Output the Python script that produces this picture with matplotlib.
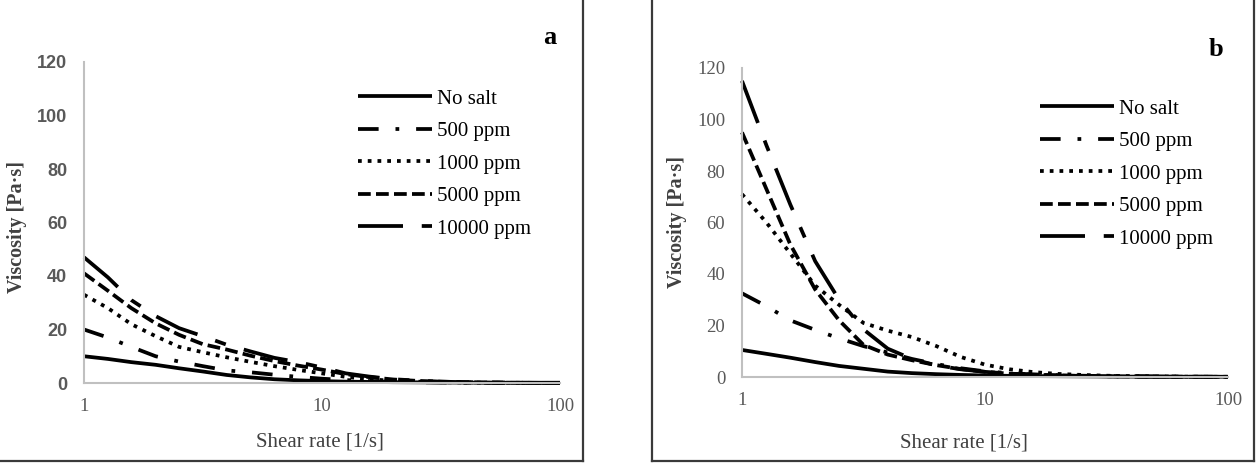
import matplotlib.pyplot as plt
from matplotlib.lines import Line2D
from matplotlib.font_manager import FontProperties

# shear rate grid [1/s]
shear = [1, 1.26, 1.58, 2, 2.51, 3.16, 3.98, 5.01, 6.31, 7.94, 10,
         12.6, 15.8, 20, 25.1, 31.6, 39.8, 50.1, 63.1, 79.4, 100]

labels = ["No salt", "500 ppm", "1000 ppm", "5000 ppm", "10000 ppm"]

# panel a
a_nosalt = [10, 9, 7.8, 6.8, 5.5, 4.3, 3.0, 2.1, 1.4, 1.0, 0.7,
            0.5, 0.4, 0.3, 0.25, 0.2, 0.15, 0.12, 0.1, 0.1, 0.1]
a_500 = [20, 17, 13.5, 10, 8, 6.3, 4.7, 4, 3.1, 2.3, 1.6,
         1.1, 0.7, 0.4, 0.3, 0.2, 0.1, 0.08, 0.06, 0.05, 0.05]
a_1000 = [33, 28, 22, 17.5, 13.5, 11.5, 9.6, 7.9, 6.3, 4.9, 3.6,
          2.3, 1.4, 0.8, 0.5, 0.3, 0.2, 0.1, 0.08, 0.05, 0.05]
a_5000 = [41, 34.5, 28, 22.3, 18, 14.5, 12.5, 10.2, 8.2, 6.5, 5,
          3.3, 2.2, 1.3, 0.8, 0.5, 0.3, 0.2, 0.1, 0.05, 0.03]
a_10000 = [47, 39.5, 31, 25, 20.5, 17.5, 14.3, 11.8, 9.4, 7.8, 5.8,
           3.6, 2.4, 1.4, 0.9, 0.5, 0.3, 0.2, 0.1, 0.05, 0.03]

# panel b
b_nosalt = [10.5, 9, 7.5, 5.8, 4.3, 3.2, 2.1, 1.5, 1.1, 0.8, 0.6,
            0.45, 0.35, 0.3, 0.25, 0.2, 0.15, 0.12, 0.1, 0.1, 0.1]
b_500 = [32.5, 27.5, 22, 18.3, 15, 12, 9.5, 7, 5, 3.4, 2.2,
         1.5, 1, 0.7, 0.5, 0.35, 0.25, 0.2, 0.15, 0.1, 0.08]
b_1000 = [71, 60, 48, 35.5, 28, 21, 18, 15.5, 12, 7.8, 4.8,
          3, 1.9, 1.2, 0.8, 0.5, 0.35, 0.25, 0.15, 0.1, 0.08]
b_5000 = [95, 73, 51.5, 34, 22, 12.5, 8.7, 6.5, 4.6, 3.1, 2,
          1.3, 0.9, 0.6, 0.4, 0.3, 0.2, 0.15, 0.1, 0.08, 0.05]
b_10000 = [115, 90, 67, 45, 30, 18.5, 11, 7, 4.5, 3, 2,
           1.3, 0.9, 0.6, 0.4, 0.3, 0.2, 0.15, 0.1, 0.08, 0.05]

styles = ['-', (0, (5.5, 4.5, 1, 4.5)), (0, (1, 1.6)), (0, (3.4, 1.4)),
          (0, (12, 5, 3, 5))]

W, H = 1257, 463
fig = plt.figure(figsize=(W / 100, H / 100), dpi=100)
plt.rcParams['font.family'] = ['Liberation Serif', 'DejaVu Serif']


def px(x0, y0, x1, y1):
    # figure-pixel box (top-left origin) -> axes rect
    return [x0 / W, 1 - y1 / H, (x1 - x0) / W, (y1 - y0) / H]


def panel(rect, series, leg_xy, tickfont, ylab_xy, xlab_xy):
    ax = fig.add_axes(rect)
    for vals, ls, lab in zip(series, styles, labels):
        ax.plot(shear, vals, color='black', lw=2.7, linestyle=ls,
                label=lab, clip_on=False, solid_capstyle='butt',
                dash_capstyle='butt')
    ax.set_xscale('log')
    ax.set_xlim(1, 100)
    ax.set_ylim(0, 120)
    ax.set_xticks([1, 10, 100])
    ax.set_xticklabels(['1', '10', '100'])
    ax.minorticks_off()
    ax.set_yticks(range(0, 121, 20))
    for s in ['top', 'right']:
        ax.spines[s].set_visible(False)
    for s in ['left', 'bottom']:
        ax.spines[s].set_color('#c0c0c0')
        ax.spines[s].set_linewidth(1.5)
    ax.tick_params(length=0, labelcolor='#595959', labelsize=13.5)
    ax.tick_params(axis='y', pad=12)
    ax.tick_params(axis='x', pad=11)
    for t in ax.get_yticklabels():
        t.set_fontproperties(tickfont)
    ax.set_ylabel('Viscosity [Pa·s]', fontsize=14.5, fontweight='bold',
                  color='#404040')
    ax.yaxis.set_label_coords(*ylab_xy)
    ax.yaxis.label.set_va('center')
    ax.set_xlabel('Shear rate [1/s]', fontsize=15, color='#404040')
    ax.xaxis.set_label_coords(*xlab_xy)
    ax.xaxis.label.set_va('center')
    ax.legend(loc='upper left', bbox_to_anchor=(leg_xy[0] / W, 1 - leg_xy[1] / H),
              bbox_transform=fig.transFigure, frameon=False, fontsize=15,
              handlelength=3.55, handletextpad=0.25, labelspacing=0.62,
              borderpad=0, borderaxespad=0)
    return ax


fa = FontProperties(family='Liberation Sans', weight='bold', size=13)
fb = FontProperties(family='Liberation Serif', size=13.5)

panel(px(84, 62, 560, 383), [a_nosalt, a_500, a_1000, a_5000, a_10000],
      (358, 89), fa, (-0.141, 0.486), (0.496, -0.184))
panel(px(742, 68, 1228, 377), [b_nosalt, b_500, b_1000, b_5000, b_10000],
      (1040, 99), fb, (-0.134, 0.5), (0.457, -0.214))

fig.text(550 / W, 1 - 37 / H, 'a', fontsize=19, fontweight='bold',
         ha='center', va='center')
fig.text(1216 / W, 1 - 50 / H, 'b', fontsize=19, fontweight='bold',
         ha='center', va='center')

# panel frames
box = dict(color='#3a3a3a', lw=1.6, transform=fig.transFigure)
fig.add_artist(Line2D([0, 583 / W], [1 - 461 / H] * 2, **box))
fig.add_artist(Line2D([583 / W] * 2, [1, 1 - 461 / H], **box))
fig.add_artist(Line2D([652 / W, 1254 / W], [1 - 461 / H] * 2, **box))
fig.add_artist(Line2D([652 / W] * 2, [1, 1 - 461 / H], **box))
fig.add_artist(Line2D([1254 / W] * 2, [1, 1 - 461 / H], **box))

fig.savefig('out.png', dpi=100)
